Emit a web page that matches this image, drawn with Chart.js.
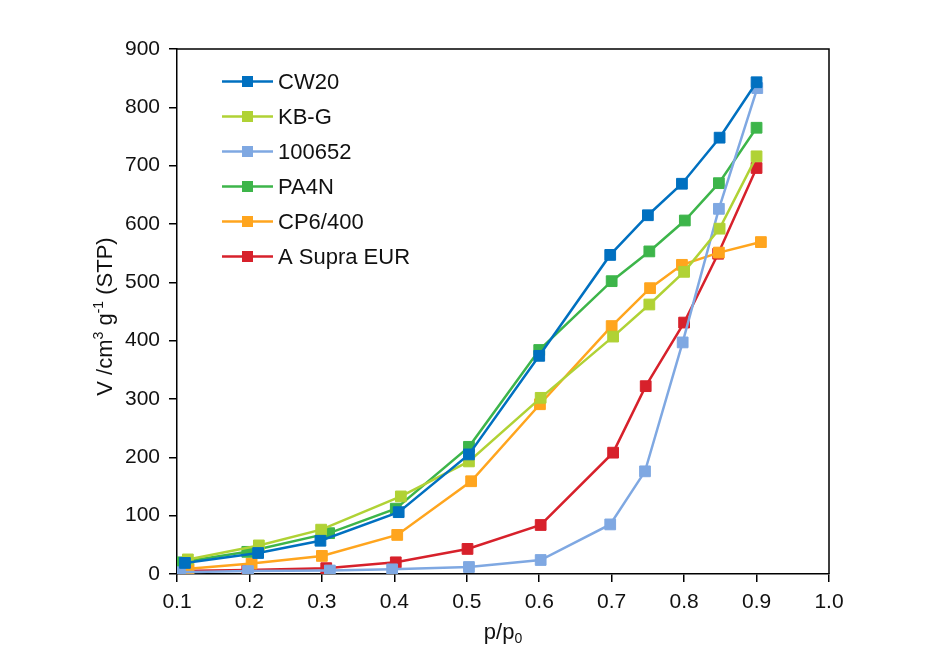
<!DOCTYPE html>
<html>
<head>
<meta charset="utf-8">
<script src="https://cdn.jsdelivr.net/npm/chart.js@4.4.1/dist/chart.umd.min.js"></script>
<style>
  html, body { margin: 0; padding: 0; background: #fff; }
  #wrap { width: 947px; height: 659px; }
</style>
</head>
<body>
<div id="wrap"><canvas id="c" width="947" height="659"></canvas></div>
<script>
// ---- data ----
const seriesNames = ['CW20', 'KB-G', '100652', 'PA4N', 'CP6/400', 'A Supra EUR'];
const seriesColors = ['#0070C0', '#B0D235', '#7FA8E2', '#3DB54A', '#FFA51E', '#D7212B'];

const cw20X = [0.111, 0.212, 0.298, 0.406, 0.503, 0.600, 0.698, 0.750, 0.797, 0.849, 0.900];
const cw20Y = [19, 36, 57, 106, 205, 374, 547, 615, 669, 748, 843];

const kbgX = [0.115, 0.213, 0.299, 0.409, 0.503, 0.602, 0.702, 0.752, 0.800, 0.849, 0.900];
const kbgY = [25, 49, 76, 133, 193, 302, 407, 462, 518, 592, 716];

const s100652X = [0.104, 0.198, 0.311, 0.397, 0.503, 0.602, 0.698, 0.746, 0.798, 0.848, 0.901];
const s100652Y = [3, 5, 6, 8, 12, 24, 85, 176, 397, 626, 833];

const pa4nX = [0.105, 0.197, 0.310, 0.402, 0.503, 0.600, 0.700, 0.752, 0.801, 0.848, 0.900];
const pa4nY = [20, 38, 70, 112, 218, 384, 502, 553, 606, 670, 765];

const cp6X = [0.116, 0.203, 0.300, 0.404, 0.506, 0.601, 0.700, 0.753, 0.797, 0.848, 0.906];
const cp6Y = [9, 18, 31, 67, 159, 291, 425, 490, 530, 551, 569];

const supraX = [0.104, 0.197, 0.306, 0.402, 0.501, 0.602, 0.702, 0.747, 0.800, 0.847, 0.900];
const supraY = [5, 7, 10, 20, 43, 84, 208, 322, 431, 549, 696];

const xTickMin = 0.1, xTickMax = 1.0, xTickStep = 0.1;
const yTickMin = 0, yTickMax = 900, yTickStep = 100;

const xTitleParts = [{ t: 'p/p' }, { t: '0', sub: true }];
const yTitleParts = [{ t: 'V /cm' }, { t: '3', sup: true }, { t: ' g' }, { t: '-1', sup: true }, { t: ' (STP)' }];

// ---- build ----
const allX = [cw20X, kbgX, s100652X, pa4nX, cp6X, supraX];
const allY = [cw20Y, kbgY, s100652Y, pa4nY, cp6Y, supraY];
const FONT = '"Liberation Sans", Arial, Helvetica, sans-serif';

const datasets = seriesNames.map((name, i) => ({
  label: name,
  data: allX[i].map((x, j) => ({ x: x, y: allY[i][j] })),
  showLine: true,
  borderColor: seriesColors[i],
  backgroundColor: seriesColors[i],
  borderWidth: 2.5,
  pointStyle: 'rect',
  pointRadius: 7.6,
  pointBorderWidth: 1,
  pointBorderColor: seriesColors[i],
  pointBackgroundColor: seriesColors[i],
  tension: 0
}));

function richWidth(ctx, parts, size) {
  let w = 0;
  parts.forEach(p => {
    const s = (p.sup || p.sub) ? Math.round(size * 0.65) : size;
    ctx.font = s + 'px ' + FONT;
    w += ctx.measureText(p.t).width;
  });
  return w;
}
function drawRich(ctx, parts, x, y, size) {
  let cx = x;
  parts.forEach(p => {
    const s = (p.sup || p.sub) ? Math.round(size * 0.65) : size;
    ctx.font = s + 'px ' + FONT;
    let dy = 0;
    if (p.sup) dy = -size * 0.40;
    if (p.sub) dy = size * 0.20;
    ctx.fillText(p.t, cx, y + dy);
    cx += ctx.measureText(p.t).width;
  });
}

const decorPlugin = {
  id: 'decor',
  afterDraw(chart) {
    const ctx = chart.ctx;
    const a = chart.chartArea;
    ctx.save();
    // top and right frame
    ctx.strokeStyle = '#000';
    ctx.lineWidth = 1.5;
    ctx.beginPath();
    ctx.moveTo(a.left, a.top);
    ctx.lineTo(a.right, a.top);
    ctx.lineTo(a.right, a.bottom);
    ctx.stroke();

    // axis titles
    ctx.fillStyle = '#111';
    ctx.textBaseline = 'alphabetic';
    ctx.textAlign = 'left';
    const ts = 22;
    const xw = richWidth(ctx, xTitleParts, ts);
    drawRich(ctx, xTitleParts, (a.left + a.right) / 2 - xw / 2, 639, ts);

    ctx.save();
    ctx.translate(112, (a.top + a.bottom) / 2 + 5);
    ctx.rotate(-Math.PI / 2);
    const yw = richWidth(ctx, yTitleParts, ts);
    drawRich(ctx, yTitleParts, -yw / 2, 0, ts);
    ctx.restore();

    // legend inside the plot
    const lx0 = a.left + 45, lx1 = a.left + 96, tx = a.left + 101;
    const ly0 = a.top + 32.5, dy = 35;
    chart.data.datasets.forEach((ds, i) => {
      const y = ly0 + i * dy;
      ctx.strokeStyle = ds.borderColor;
      ctx.lineWidth = 2.5;
      ctx.beginPath();
      ctx.moveTo(lx0, y);
      ctx.lineTo(lx1, y);
      ctx.stroke();
      ctx.fillStyle = ds.borderColor;
      const m = 11;
      const mx = (lx0 + lx1) / 2;
      ctx.fillRect(mx - m / 2, y - m / 2, m, m);
      ctx.fillStyle = '#111';
      ctx.font = '22px ' + FONT;
      ctx.textBaseline = 'middle';
      ctx.fillText(ds.label, tx, y + 1);
    });
    ctx.restore();
  }
};

new Chart(document.getElementById('c'), {
  type: 'scatter',
  data: { datasets: datasets },
  options: {
    responsive: false,
    devicePixelRatio: 1,
    animation: false,
    layout: { padding: { top: 49, right: 118, bottom: 0, left: 0 } },
    plugins: { legend: { display: false }, tooltip: { enabled: false } },
    scales: {
      x: {
        type: 'linear',
        min: xTickMin, max: xTickMax,
        afterFit: s => { s.height = 85; },
        ticks: {
          stepSize: xTickStep,
          color: '#111',
          font: { family: FONT, size: 21 },
          padding: 8,
          callback: v => Number(v).toFixed(1),
          maxRotation: 0
        },
        grid: { display: true, drawOnChartArea: false, drawTicks: true, tickLength: 8, color: '#000', lineWidth: 1.5 },
        border: { display: true, color: '#000', width: 1.5 }
      },
      y: {
        type: 'linear',
        min: yTickMin, max: yTickMax,
        afterFit: s => { s.width = 177; },
        ticks: {
          stepSize: yTickStep,
          color: '#111',
          font: { family: FONT, size: 21 },
          padding: 9
        },
        grid: { display: true, drawOnChartArea: false, drawTicks: true, tickLength: 8, color: '#000', lineWidth: 1.5 },
        border: { display: true, color: '#000', width: 1.5 }
      }
    }
  },
  plugins: [decorPlugin]
});
</script>
</body>
</html>
